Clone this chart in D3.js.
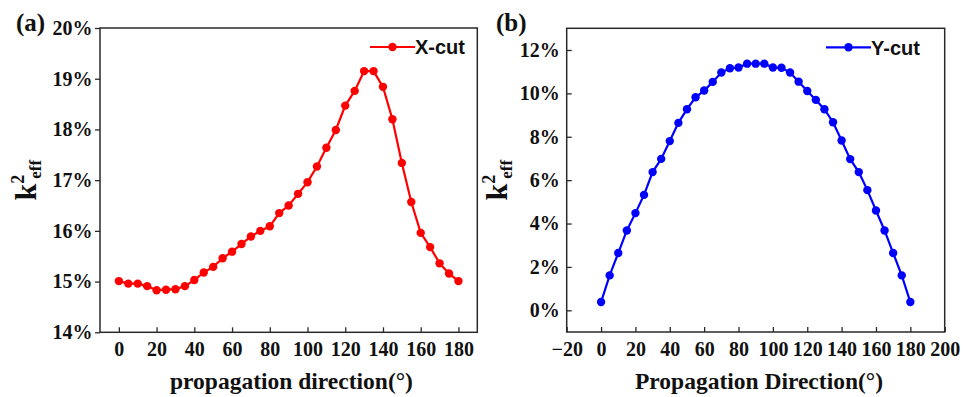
<!DOCTYPE html>
<html>
<head>
<meta charset="utf-8">
<script src="https://cdn.jsdelivr.net/npm/d3@7"></script>
<style>
  body { margin: 0; background: #fff; }
  svg { display: block; }
</style>
</head>
<body>
<svg id="chart" width="965" height="397"></svg>
<script>
var width = 965;
var height = 397;

// propagation angles (deg)
var angles = [0, 5, 10, 15, 20, 25, 30, 35, 40, 45, 50, 55, 60, 65, 70, 75, 80, 85, 90,
              95, 100, 105, 110, 115, 120, 125, 130, 135, 140, 145, 150, 155, 160, 165, 170, 175, 180];

// k2eff in %, X-cut
var xcutValues = [15.01, 14.96, 14.96, 14.91, 14.83, 14.84, 14.85, 14.91, 15.03, 15.18, 15.29, 15.46,
                  15.59, 15.74, 15.89, 16.00, 16.09, 16.35, 16.50, 16.73, 16.96, 17.27, 17.64, 17.99,
                  18.47, 18.76, 19.15, 19.15, 18.84, 18.20, 17.34, 16.57, 15.96, 15.68, 15.36, 15.16, 15.01];

// k2eff in %, Y-cut
var ycutValues = [0.38, 1.61, 2.64, 3.68, 4.48, 5.32, 6.37, 6.98, 7.80, 8.64, 9.27, 9.82,
                  10.13, 10.53, 10.96, 11.16, 11.19, 11.37, 11.37, 11.37, 11.19, 11.18, 10.96, 10.54,
                  10.11, 9.70, 9.27, 8.67, 7.83, 6.97, 6.37, 5.54, 4.60, 3.68, 2.64, 1.61, 0.38];

var xTicksA = [0, 20, 40, 60, 80, 100, 120, 140, 160, 180];
var xTicksB = [-20, 0, 20, 40, 60, 80, 100, 120, 140, 160, 180, 200];
var yTicksA = [14, 15, 16, 17, 18, 19, 20];
var yTicksB = [0, 2, 4, 6, 8, 10, 12];

var serif = "'Times New Roman', 'Liberation Serif', serif";
var sans = "Arial, 'Liberation Sans', sans-serif";
var axisColor = "#2a2a2a";

var svg = d3.select("#chart");

// Draws one panel
function drawPanel(opt) {
    var x = d3.scaleLinear().domain(opt.xDomain).range([opt.left, opt.right]);
    var y = d3.scaleLinear().domain(opt.yDomain).range([opt.bottom, opt.top]);

    var g = svg.append("g");

    // x axis, ticks pointing inward
    var xAxis = g.append("g")
        .attr("transform", "translate(0," + opt.bottom + ")")
        .call(d3.axisBottom(x).tickValues(opt.xTicks).tickSizeInner(-5).tickSizeOuter(0).tickPadding(10));

    // y axis
    var yAxis = g.append("g")
        .attr("transform", "translate(" + opt.left + ",0)")
        .call(d3.axisLeft(y).tickValues(opt.yTicks)
            .tickSizeInner(opt.yTickIn ? -5 : 5).tickSizeOuter(0)
            .tickPadding(opt.yTickIn ? 7 : 2.5)
            .tickFormat(function (d) { return d + "%"; }));

    [xAxis, yAxis].forEach(function (a) {
        a.select(".domain").remove();
        a.selectAll(".tick line").attr("stroke", axisColor).attr("stroke-width", 1.3);
        a.selectAll("text")
            .attr("fill", "#111")
            .style("font-family", serif)
            .style("font-weight", "bold")
            .style("font-size", "20px");
    });

    // frame
    g.append("rect")
        .attr("x", opt.left)
        .attr("y", opt.top)
        .attr("width", opt.right - opt.left)
        .attr("height", opt.bottom - opt.top)
        .attr("fill", "none")
        .attr("stroke", axisColor)
        .attr("stroke-width", 1.5);

    var pts = angles.map(function (a, i) { return [a, opt.values[i]]; });

    var line = d3.line()
        .x(function (d) { return x(d[0]); })
        .y(function (d) { return y(d[1]); });

    g.append("path")
        .datum(pts)
        .attr("d", line)
        .attr("fill", "none")
        .attr("stroke", opt.color)
        .attr("stroke-width", 2.2);

    g.selectAll(".dot")
        .data(pts)
        .enter().append("circle")
        .attr("class", "dot")
        .attr("cx", function (d) { return x(d[0]); })
        .attr("cy", function (d) { return y(d[1]); })
        .attr("r", 4.2)
        .attr("fill", opt.color);

    // legend
    var lg = g.append("g").attr("transform", "translate(" + opt.legendX + "," + opt.legendY + ")");
    lg.append("line")
        .attr("x1", 0).attr("x2", 45)
        .attr("y1", 0).attr("y2", 0)
        .attr("stroke", opt.color)
        .attr("stroke-width", 2.2);
    lg.append("circle")
        .attr("cx", 22.5).attr("cy", 0).attr("r", 4.2)
        .attr("fill", opt.color);
    lg.append("text")
        .attr("x", 45)
        .attr("y", 0)
        .attr("dy", "0.36em")
        .attr("fill", "#111")
        .style("font-family", sans)
        .style("font-weight", "bold")
        .style("font-size", "20px")
        .text(opt.name);

    // x title
    g.append("text")
        .attr("x", opt.xTitleX)
        .attr("y", 389)
        .attr("text-anchor", "middle")
        .attr("fill", "#111")
        .style("font-family", serif)
        .style("font-weight", "bold")
        .style("font-size", "23.5px")
        .text(opt.xTitle);

    // y title k^2_eff
    var yt = g.append("text")
        .attr("transform", "translate(" + opt.yTitleX + "," + ((opt.top + opt.bottom) / 2) + ") rotate(-90)")
        .attr("text-anchor", "middle")
        .attr("fill", "#111")
        .style("font-family", serif)
        .style("font-weight", "bold")
        .style("font-size", "30px");
    yt.append("tspan").text("k");
    yt.append("tspan").attr("dy", -12).style("font-size", "18px").text("2");
    yt.append("tspan").attr("dy", 17).attr("dx", -4).style("font-size", "17px").text("eff");

    // panel label
    g.append("text")
        .attr("x", opt.labelX)
        .attr("y", 31)
        .attr("fill", "#111")
        .style("font-family", serif)
        .style("font-weight", "bold")
        .style("font-size", "25px")
        .text(opt.label);
}

drawPanel({
    left: 100, right: 477.3, top: 28, bottom: 332.3,
    xDomain: [-10, 190], yDomain: [14, 20],
    xTicks: xTicksA, yTicks: yTicksA, yTickIn: false,
    values: xcutValues, color: "#ff0000", name: "X-cut",
    legendX: 370, legendY: 47,
    xTitle: "propagation direction(\u00b0)", xTitleX: 291.5,
    yTitleX: 36, label: "(a)", labelX: 16
});

drawPanel({
    left: 566.7, right: 944.7, top: 28.3, bottom: 332,
    xDomain: [-20, 200], yDomain: [-1, 13],
    xTicks: xTicksB, yTicks: yTicksB, yTickIn: true,
    values: ycutValues, color: "#0000ff", name: "Y-cut",
    legendX: 826, legendY: 47.3,
    xTitle: "Propagation Direction(\u00b0)", xTitleX: 759,
    yTitleX: 507, label: "(b)", labelX: 496
});
</script>
</body>
</html>
